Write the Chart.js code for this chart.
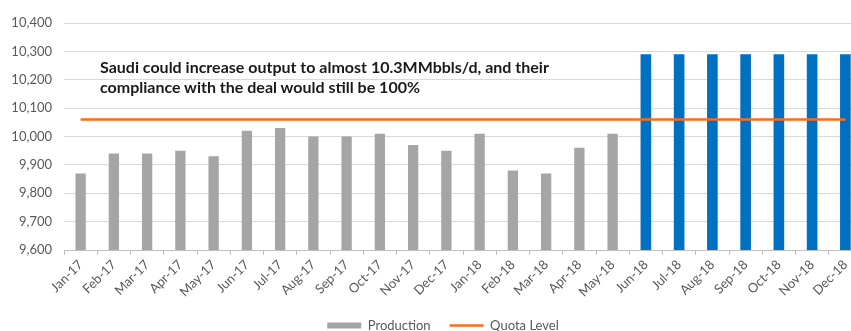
<!DOCTYPE html>
<html>
<head>
<meta charset="utf-8">
<script src="https://cdn.jsdelivr.net/npm/chart.js@4"></script>
<style>
  html, body { margin: 0; padding: 0; background: #fff; overflow: hidden; width: 851px; height: 331px; }
  #wrap { position: relative; width: 887px; height: 331px; }
  #note { position: absolute; left: 100px; top: 57px; font-family: Lato, sans-serif; font-weight: bold; font-size: 16px; line-height: 20px; color: #1a1a1a; white-space: nowrap; }
</style>
</head>
<body>
<div id="wrap">
  <canvas id="c" width="887" height="331"></canvas>
  <div id="note">Saudi could increase output to almost 10.3MMbbls/d, and their<br>compliance with the deal would still be 100%</div>
</div>
<script>
const months = ["Jan-17","Feb-17","Mar-17","Apr-17","May-17","Jun-17","Jul-17","Aug-17","Sep-17","Oct-17","Nov-17","Dec-17",
                "Jan-18","Feb-18","Mar-18","Apr-18","May-18","Jun-18","Jul-18","Aug-18","Sep-18","Oct-18","Nov-18","Dec-18"];
const production = [9870, 9940, 9940, 9950, 9930, 10020, 10030, 10000, 10000, 10010, 9970, 9950,
                    10010, 9880, 9870, 9960, 10010, null, null, null, null, null, null, null];
const potential = [null, null, null, null, null, null, null, null, null, null, null, null,
                   null, null, null, null, null, 10290, 10290, 10290, 10290, 10290, 10290, 10290];
const quota = [10060, 10060, 10060, 10060, 10060, 10060, 10060, 10060, 10060, 10060, 10060, 10060,
               10060, 10060, 10060, 10060, 10060, 10060, 10060, 10060, 10060, 10060, 10060, 10060];
const yTicks = { min: 9600, max: 10400, step: 100 };

const FONT = "Lato, sans-serif";
const CHART_BOTTOM = 250;
const PAD_BOTTOM = -11;
const LEGEND_SHIFT = 12;

const shiftLegend = {
  id: 'shiftLegend',
  afterLayout(chart) {
    const lg = chart.legend;
    if (lg) { lg.left += LEGEND_SHIFT; lg.right += LEGEND_SHIFT; }
  }
};

new Chart(document.getElementById('c'), {
  data: {
    labels: months,
    datasets: [
      { type: 'line', label: 'Quota Level', data: quota, borderColor: '#ff6a14', backgroundColor: '#ff6a14',
        borderWidth: 2.5, pointRadius: 0, pointStyle: 'line', order: 0 },
      { type: 'bar', label: 'Production', data: production, backgroundColor: '#a5a5a5',
        barPercentage: 0.31, categoryPercentage: 1, grouped: false, pointStyle: 'rect', order: 1 },
      { type: 'bar', label: 'Potential', data: potential, backgroundColor: '#0070c0',
        barPercentage: 0.32, categoryPercentage: 1, grouped: false, pointStyle: 'rect', order: 1 }
    ]
  },
  plugins: [shiftLegend],
  options: {
    responsive: false,
    animation: false,
    layout: { padding: { top: 23, right: 25, left: 0, bottom: PAD_BOTTOM } },
    plugins: {
      tooltip: { enabled: false },
      legend: {
        position: 'bottom',
        reverse: true,
        labels: {
          filter: (item) => item.text !== 'Potential',
          usePointStyle: true,
          pointStyleWidth: 34,
          boxHeight: 6,
          padding: 19,
          color: '#595959',
          font: { family: FONT, size: 13 }
        }
      }
    },
    scales: {
      x: {
        grid: { drawOnChartArea: false, drawTicks: true, tickLength: 5, color: '#bfbfbf', offset: true },
        border: { display: true, color: '#bfbfbf' },
        ticks: { minRotation: 45, maxRotation: 45, autoSkip: false, padding: 2, color: '#595959',
                 font: { family: FONT, size: 13 } },
        afterFit: (scale) => {
          const lg = scale.chart.legend ? scale.chart.legend.height : 0;
          scale.height = 331 - PAD_BOTTOM - CHART_BOTTOM - lg;
        }
      },
      y: {
        min: yTicks.min, max: yTicks.max,
        grid: { color: '#d9d9d9', drawTicks: false, lineWidth: 1 },
        border: { display: false },
        ticks: { stepSize: yTicks.step, padding: 12, color: '#595959', font: { family: FONT, size: 13 },
                 callback: (v) => v.toLocaleString('en-US') },
        afterFit: (scale) => { scale.width = 64; }
      }
    }
  }
});
</script>
</body>
</html>
